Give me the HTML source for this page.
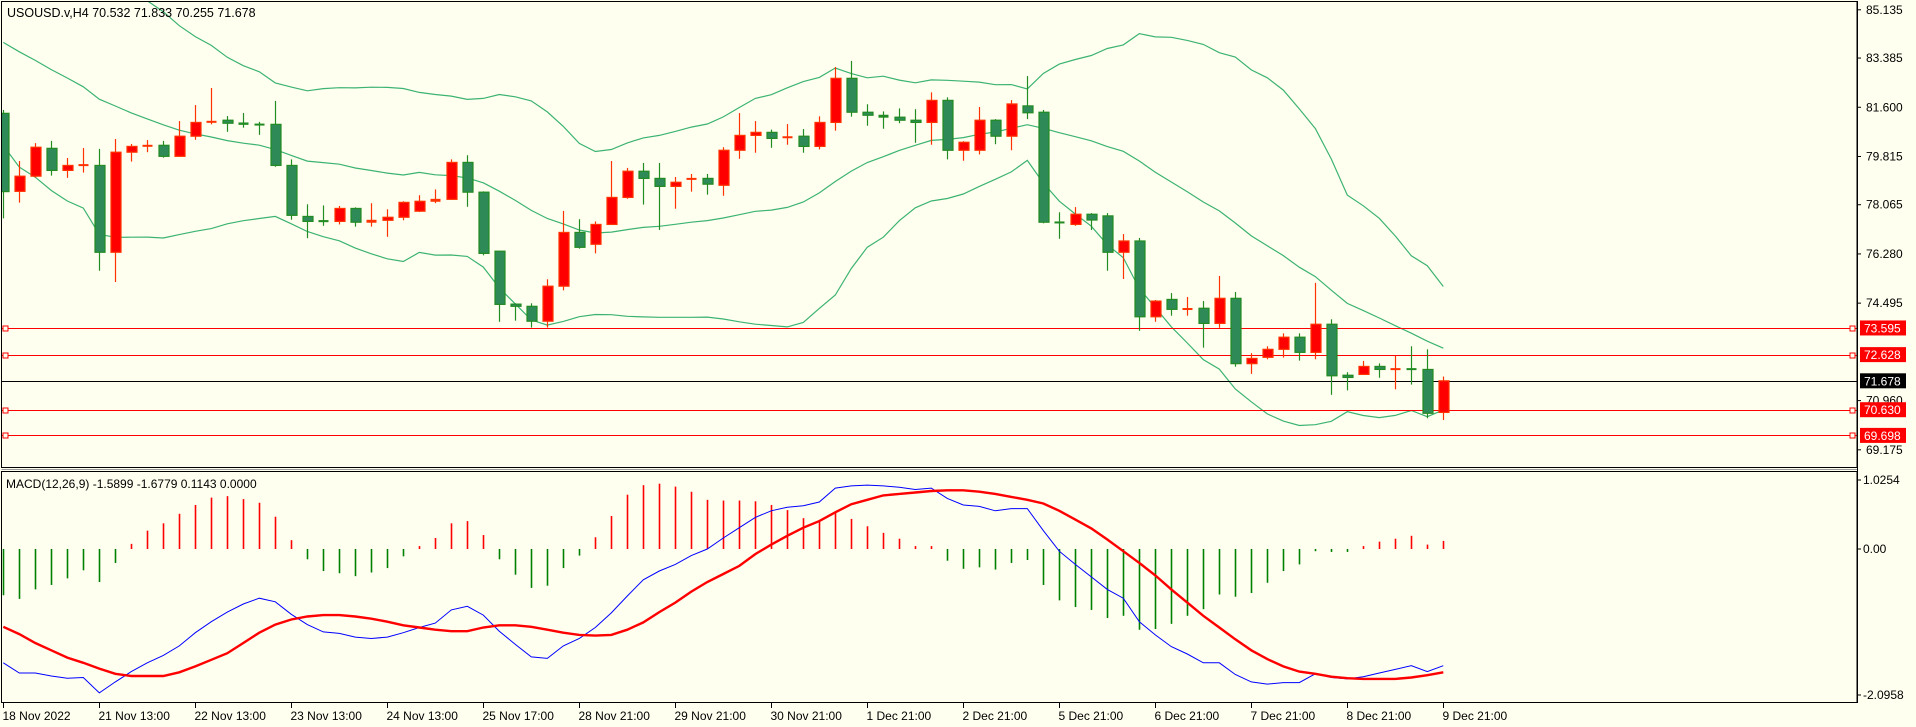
<!DOCTYPE html>
<html><head><meta charset="utf-8"><style>
html,body{margin:0;padding:0;background:#FFFFF0;}
svg{display:block;font-family:"Liberation Sans",sans-serif;}
</style></head><body>
<svg id="chart" width="1916" height="727" viewBox="0 0 1916 727" xmlns="http://www.w3.org/2000/svg">
<rect x="0" y="0" width="1916" height="727" fill="#FFFFF0"/>
<g id="price"></g>
<g id="macd"></g>
<g id="axes"></g>
</svg>
<script>
const preCloses=[85.9,86.4,86.0,85.6,85.9,85.3,84.9,85.2,84.6,84.1,84.4,83.8,83.3,83.6,82.9,82.4,82.7,81.9,81.6];
const opens=[81.38,78.55,79.10,80.11,79.31,79.50,79.49,76.34,79.97,80.21,80.22,79.82,80.55,81.06,81.13,81.03,80.99,80.98,79.49,77.64,77.49,77.46,77.93,77.43,77.50,77.61,77.83,78.19,78.26,79.60,78.52,76.38,74.46,74.38,73.84,75.11,77.06,76.63,77.35,78.33,79.28,79.02,78.73,79.00,79.02,78.77,80.04,80.58,80.69,80.51,80.55,80.18,81.05,82.65,81.42,81.31,81.24,81.13,81.05,81.85,80.04,80.04,81.13,80.55,81.65,81.42,77.44,77.35,77.72,77.66,76.34,76.75,74.00,74.63,74.28,74.31,73.76,74.67,72.30,72.53,72.82,73.26,72.71,73.73,71.88,71.91,72.20,72.09,72.12,72.09,70.532];
const highs=[81.50,79.65,80.30,80.38,79.76,80.12,80.09,80.45,80.27,80.41,80.38,81.10,81.68,82.30,81.28,81.39,81.07,81.83,79.71,78.08,78.04,78.02,77.97,78.12,77.90,78.19,78.41,78.62,79.71,79.86,78.55,76.39,74.49,74.49,75.36,77.84,77.54,77.46,79.65,79.40,79.58,79.58,79.07,79.18,79.18,80.15,81.39,81.10,80.79,80.99,80.81,81.27,83.06,83.28,81.71,81.45,81.56,81.53,82.14,81.96,80.37,81.61,81.17,81.86,82.73,81.50,77.79,77.98,77.76,77.76,77.00,76.86,74.61,74.86,74.72,74.57,75.48,74.90,72.68,72.93,73.40,73.40,75.23,73.91,71.99,72.40,72.31,72.59,72.93,72.82,71.833];
const lows=[77.57,78.14,79.05,79.12,79.04,79.23,75.67,75.26,79.63,79.97,79.77,79.80,80.42,80.98,80.71,80.86,80.60,79.44,77.52,76.85,77.30,77.35,77.27,77.27,76.90,77.50,77.80,78.12,78.24,77.99,76.23,73.82,73.86,73.61,73.61,74.96,76.47,76.30,77.33,78.28,78.07,77.15,77.92,78.54,78.43,78.39,79.73,79.95,80.13,80.24,79.95,80.07,80.75,81.26,80.93,80.82,81.02,80.31,80.24,79.71,79.66,79.89,80.26,80.04,81.17,77.39,76.83,77.30,77.15,75.67,75.37,73.49,73.82,74.04,74.04,72.88,73.60,72.19,71.93,72.46,72.52,72.41,72.46,71.17,71.33,71.89,71.79,71.37,71.54,70.32,70.255];
const closes=[78.54,79.10,80.15,79.31,79.49,79.52,76.34,79.97,80.18,80.22,79.82,80.55,81.05,81.09,81.02,80.98,80.96,79.49,77.68,77.46,77.45,77.93,77.43,77.50,77.61,78.15,78.19,78.26,79.60,78.52,76.30,74.45,74.38,73.84,75.11,77.06,76.52,77.35,78.33,79.28,79.02,78.73,78.88,79.02,78.81,80.04,80.58,80.69,80.47,80.53,80.18,81.05,82.65,81.42,81.31,81.24,81.13,81.05,81.85,80.04,80.33,81.13,80.55,81.72,81.40,77.43,77.41,77.72,77.51,76.34,76.75,74.00,74.57,74.27,74.30,73.76,74.67,72.30,72.49,72.82,73.26,72.71,73.73,71.86,71.80,72.20,72.09,72.12,72.09,70.50,71.678];
const macdHist=[-0.63,-0.68,-0.55,-0.49,-0.40,-0.29,-0.45,-0.19,0.07,0.25,0.35,0.48,0.60,0.70,0.72,0.68,0.63,0.44,0.12,-0.14,-0.30,-0.33,-0.37,-0.32,-0.26,-0.10,0.04,0.15,0.35,0.38,0.19,-0.14,-0.35,-0.53,-0.50,-0.26,-0.09,0.16,0.45,0.74,0.87,0.89,0.85,0.78,0.67,0.66,0.66,0.65,0.60,0.53,0.42,0.39,0.50,0.41,0.31,0.22,0.14,0.04,0.04,-0.16,-0.27,-0.25,-0.28,-0.19,-0.15,-0.49,-0.70,-0.79,-0.83,-0.94,-0.91,-1.10,-1.09,-1.02,-0.91,-0.82,-0.62,-0.65,-0.60,-0.46,-0.30,-0.21,-0.03,-0.04,-0.04,0.04,0.10,0.14,0.18,0.06,0.11];
const macdMain=[-1.55,-1.69,-1.69,-1.73,-1.76,-1.75,-1.96,-1.81,-1.67,-1.55,-1.45,-1.32,-1.14,-0.99,-0.86,-0.75,-0.67,-0.72,-0.89,-1.03,-1.13,-1.15,-1.20,-1.22,-1.20,-1.14,-1.07,-1.01,-0.83,-0.78,-0.90,-1.12,-1.30,-1.47,-1.49,-1.32,-1.22,-1.07,-0.87,-0.64,-0.42,-0.30,-0.21,-0.09,0.00,0.15,0.29,0.43,0.52,0.57,0.59,0.64,0.83,0.86,0.87,0.86,0.84,0.81,0.83,0.69,0.60,0.58,0.52,0.55,0.55,0.25,-0.03,-0.21,-0.38,-0.55,-0.67,-0.99,-1.17,-1.33,-1.43,-1.55,-1.55,-1.71,-1.81,-1.84,-1.82,-1.82,-1.70,-1.75,-1.77,-1.74,-1.69,-1.64,-1.59,-1.67,-1.59];
const macdSignal=[-1.06,-1.16,-1.28,-1.38,-1.48,-1.55,-1.63,-1.70,-1.73,-1.73,-1.73,-1.68,-1.60,-1.51,-1.42,-1.28,-1.14,-1.03,-0.96,-0.92,-0.90,-0.90,-0.92,-0.95,-0.99,-1.04,-1.07,-1.10,-1.12,-1.12,-1.07,-1.04,-1.04,-1.06,-1.10,-1.14,-1.17,-1.18,-1.17,-1.10,-1.00,-0.86,-0.73,-0.58,-0.45,-0.34,-0.23,-0.07,0.06,0.18,0.29,0.38,0.50,0.61,0.67,0.73,0.75,0.77,0.79,0.80,0.80,0.78,0.75,0.71,0.67,0.62,0.52,0.40,0.28,0.13,-0.03,-0.19,-0.36,-0.55,-0.73,-0.91,-1.07,-1.23,-1.38,-1.50,-1.60,-1.67,-1.70,-1.74,-1.76,-1.77,-1.77,-1.77,-1.75,-1.72,-1.68];
const priceTicks=["85.135","83.385","81.600","79.815","78.065","76.280","74.495","70.960","69.175"];
const levelValues=[73.595,72.628,70.630,69.698];
const currentPrice=71.678;
const timeLabels=["18 Nov 2022","21 Nov 13:00","22 Nov 13:00","23 Nov 13:00","24 Nov 13:00","25 Nov 17:00","28 Nov 21:00","29 Nov 21:00","30 Nov 21:00","1 Dec 21:00","2 Dec 21:00","5 Dec 21:00","6 Dec 21:00","7 Dec 21:00","8 Dec 21:00","9 Dec 21:00"];
const timeLabelBars=[0,6,12,18,24,30,36,42,48,54,60,66,72,78,84,90];
const macdTicks=["1.0254","0.00","-2.0958"];
const macdTickValues=[1.0254,0,-2.0958];

const NS="http://www.w3.org/2000/svg";
const AX=1857;
function xS(k){return 3.3+16*k;}
function yP(p){return 9.8+(85.135-p)*27.57;}
function yM(v){return 549-v*73.4;}
function mk(tag,attrs,parent){const e=document.createElementNS(NS,tag);for(const a in attrs)e.setAttribute(a,attrs[a]);parent.appendChild(e);return e;}
const gP=document.getElementById('price'),gM=document.getElementById('macd'),gA=document.getElementById('axes');

// clip paths
const defs=mk('defs',{},document.getElementById('chart'));
const cp1=mk('clipPath',{id:'cp1'},defs);mk('rect',{x:2,y:2,width:AX-2,height:465},cp1);
const cp2=mk('clipPath',{id:'cp2'},defs);mk('rect',{x:2,y:472,width:AX-2,height:230},cp2);
gP.setAttribute('clip-path','url(#cp1)');gM.setAttribute('clip-path','url(#cp2)');

// Bollinger bands
const all=preCloses.concat(closes);const up=[],mid=[],lo=[];
for(let k=0;k<closes.length;k++){const i=k+preCloses.length;const w=all.slice(i-19,i+1);const m=w.reduce((a,b)=>a+b,0)/20;const sd=Math.sqrt(w.reduce((a,b)=>a+(b-m)*(b-m),0)/20);mid.push(m);up.push(m+2*sd);lo.push(m-2*sd);}
[[up,'bollinger-upper'],[mid,'bollinger-middle'],[lo,'bollinger-lower']].forEach(([arr,name])=>{
  const pl=mk('polyline',{points:arr.map((v,k)=>xS(k).toFixed(1)+','+yP(v).toFixed(1)).join(' '),fill:'none',stroke:'#3CB371','stroke-width':1.2},gP);
  
  
});

// level lines
levelValues.forEach((v,i)=>{
  const y=Math.round(yP(v))+0.5;
  const l=mk('line',{x1:2,x2:AX,y1:y,y2:y,stroke:'#FF0000','stroke-width':1},gP);
  
  
  const s1=mk('rect',{x:3,y:y-2.5,width:5,height:5,fill:'#FFFFF0',stroke:'#FF0000'},gP);
  
  
  const s2=mk('rect',{x:AX-7,y:y-2.5,width:5,height:5,fill:'#FFFFF0',stroke:'#FF0000'},gP);
  
  
});
{const y=Math.round(yP(currentPrice))+0.5;const l=mk('line',{x1:2,x2:AX,y1:y,y2:y,stroke:'#000','stroke-width':1},gP);

}

// candles
for(let k=0;k<closes.length;k++){
  const x=Math.round(xS(k))+0.5,o=opens[k],c=closes[k];const bull=c>=o;
  const col=bull?'#FF3300':'#228B22',fill=bull?'#FF0000':'#2E8B57';
  const g=mk('g',{},gP);
  
  
  mk('line',{x1:x,x2:x,y1:yP(highs[k]),y2:yP(lows[k]),stroke:col,'stroke-width':1.2},g);
  const t=yP(Math.max(o,c)),b=yP(Math.min(o,c));
  if(b-t<2){mk('rect',{x:x-5,y:t-0.5,width:10,height:Math.max(2,b-t+1),fill:col},g);}
  else mk('rect',{x:x-4.5,y:t,width:10,height:b-t,fill:fill,stroke:col,'stroke-width':1.2},g);
}

// MACD histogram
for(let k=0;k<macdHist.length;k++){
  const x=Math.round(xS(k))+0.5,v=macdHist[k];
  const r=mk('line',{x1:x,x2:x,y1:yM(0),y2:yM(v),stroke:v>=0?'#FF0000':'#008000','stroke-width':1.6},gM);
  
  
}
{const pl=mk('polyline',{points:macdMain.map((v,k)=>xS(k).toFixed(1)+','+yM(v).toFixed(1)).join(' '),fill:'none',stroke:'#0000FF','stroke-width':1},gM);

}
{const pl=mk('polyline',{points:macdSignal.map((v,k)=>xS(k).toFixed(1)+','+yM(v).toFixed(1)).join(' '),fill:'none',stroke:'#FF0000','stroke-width':2.4},gM);

}

// frames
{const f=mk('rect',{x:1.5,y:1.5,width:AX-1.5,height:466,fill:'none',stroke:'#000','stroke-width':1},gA);


const f2=mk('rect',{x:1.5,y:471.5,width:AX-1.5,height:231,fill:'none',stroke:'#000','stroke-width':1},gA);


mk('line',{x1:1.5,x2:AX,y1:469.5,y2:469.5,stroke:'#999','stroke-width':1},gA);}

// titles
{const t=mk('text',{x:7,y:17,'font-size':12.5,fill:'#000'},gA);t.textContent='USOUSD.v,H4  70.532 71.833 70.255 71.678';


const t2=mk('text',{x:6,y:488,'font-size':12,fill:'#000'},gA);t2.textContent='MACD(12,26,9) -1.5899 -1.6779 0.1143 0.0000';

}

// price axis labels
priceTicks.forEach(s=>{const y=yP(parseFloat(s));
  mk('line',{x1:AX,x2:AX+4,y1:y,y2:y,stroke:'#000'},gA);
  const t=mk('text',{x:1866,y:y+4,'font-size':12,fill:'#000'},gA);t.textContent=s;
  
  
});
levelValues.forEach(v=>{const y=yP(v);
  const r=mk('rect',{x:1860,y:y-7.5,width:46,height:15,fill:'#FF0000'},gA);
  
  
  const t=mk('text',{x:1864,y:y+4.5,'font-size':12,fill:'#fff'},gA);t.textContent=v.toFixed(3);
  
  
});
{const y=yP(currentPrice);const r=mk('rect',{x:1860,y:y-7.5,width:46,height:15,fill:'#000'},gA);


const t=mk('text',{x:1864,y:y+4.5,'font-size':12,fill:'#fff'},gA);t.textContent=currentPrice.toFixed(3);

}
mk('line',{x1:AX+0.5,x2:AX+0.5,y1:1,y2:703,stroke:'#000'},gA);

// macd axis
macdTicks.forEach((s,i)=>{const v=macdTickValues[i];let y=yM(v);if(i===0)y=480;if(i===2)y=695;
  mk('line',{x1:AX,x2:AX+4,y1:y,y2:y,stroke:'#000'},gA);
  const t=mk('text',{x:1863,y:y+4,'font-size':12,fill:'#000'},gA);t.textContent=s;
  
  
});

// time axis
timeLabels.forEach((s,i)=>{const x=Math.round(xS(timeLabelBars[i]))+0.5;
  mk('line',{x1:x,x2:x,y1:703,y2:708,stroke:'#000'},gA);
  const t=mk('text',{x:x-1,y:720,'font-size':12,fill:'#000'},gA);t.textContent=s;
  
  
});
</script>
</body></html>
